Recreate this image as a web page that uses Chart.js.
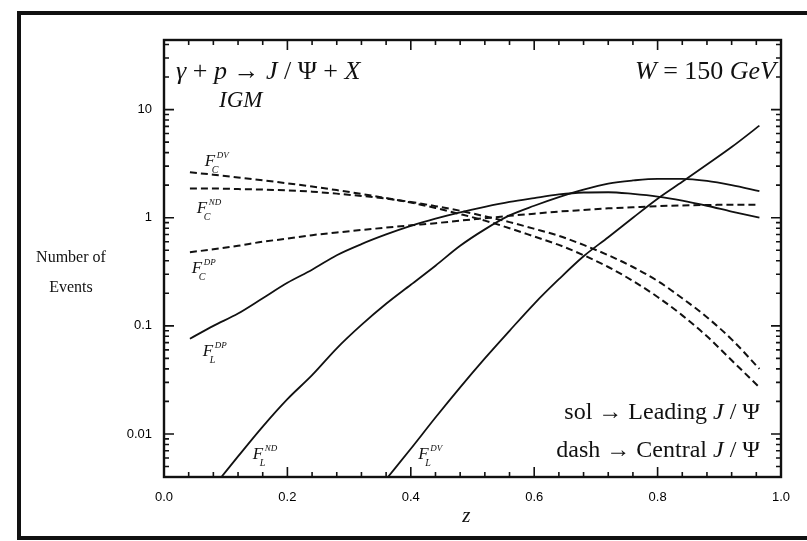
<!DOCTYPE html>
<html>
<head>
<meta charset="utf-8">
<script src="https://cdn.jsdelivr.net/npm/chart.js@4.4.0/dist/chart.umd.min.js"></script>
<style>
  html, body { margin: 0; padding: 0; background: #fff; }
  #wrap { position: relative; width: 807px; height: 541px; }
</style>
</head>
<body>
<div id="wrap"><canvas id="chart" width="807" height="541"></canvas></div>
<script>
// z grid shared by the curves that start at the left edge
var zFull = [0.042, 0.08, 0.12, 0.16, 0.20, 0.24, 0.28, 0.32, 0.36, 0.40, 0.44, 0.48,
             0.52, 0.56, 0.60, 0.64, 0.68, 0.72, 0.76, 0.80, 0.84, 0.88, 0.92, 0.965];
// z grids of the two curves that come up from the bottom axis
var zLeadND = [0.093, 0.12, 0.16, 0.20, 0.24, 0.28, 0.32, 0.36, 0.40, 0.44, 0.48, 0.52,
               0.56, 0.60, 0.64, 0.68, 0.72, 0.76, 0.80, 0.84, 0.88, 0.92, 0.965];
var zLeadDV = [0.363, 0.40, 0.44, 0.48, 0.52, 0.56, 0.60, 0.64, 0.68, 0.72, 0.76, 0.80,
               0.84, 0.88, 0.92, 0.965];

// leading J/Psi (solid)
var leadDP = [0.076, 0.10, 0.13, 0.18, 0.25, 0.33, 0.45, 0.57, 0.70, 0.84, 0.98, 1.12,
              1.26, 1.40, 1.52, 1.64, 1.71, 1.72, 1.66, 1.57, 1.44, 1.29, 1.14, 1.0];
var leadND = [0.004, 0.0062, 0.0117, 0.021, 0.035, 0.062, 0.102, 0.16, 0.24, 0.36, 0.55, 0.78,
              1.05, 1.29, 1.55, 1.82, 2.07, 2.21, 2.29, 2.29, 2.19, 2.0, 1.76];
var leadDV = [0.004, 0.0073, 0.0142, 0.027, 0.05, 0.09, 0.16, 0.27, 0.44, 0.66, 1.0, 1.5,
              2.15, 3.1, 4.5, 7.1];

// central J/Psi (dashed)
var centDP = [0.48, 0.51, 0.55, 0.60, 0.64, 0.69, 0.73, 0.77, 0.81, 0.85, 0.89, 0.94,
              0.99, 1.04, 1.09, 1.14, 1.18, 1.22, 1.25, 1.28, 1.30, 1.31, 1.32, 1.32];
var centND = [1.86, 1.86, 1.84, 1.82, 1.79, 1.74, 1.67, 1.59, 1.50, 1.40, 1.28, 1.16,
              1.03, 0.91, 0.79, 0.68, 0.56, 0.45, 0.35, 0.26, 0.18, 0.12, 0.075, 0.04];
var centDV = [2.63, 2.50, 2.36, 2.22, 2.08, 1.94, 1.80, 1.66, 1.52, 1.38, 1.23, 1.08,
              0.94, 0.80, 0.67, 0.56, 0.45, 0.35, 0.26, 0.185, 0.125, 0.08, 0.048, 0.027];

var xTickLabels = [0.0, 0.2, 0.4, 0.6, 0.8, 1.0];
var yTickLabels = [0.01, 0.1, 1, 10];

// curve names, written next to the curves (position given in data units)
var curveLabels = [
    { sub: 'C', sup: 'DV', z: 0.066, y: 3.03 },
    { sub: 'C', sup: 'ND', z: 0.053, y: 1.11 },
    { sub: 'C', sup: 'DP', z: 0.045, y: 0.309 },
    { sub: 'L', sup: 'DP', z: 0.063, y: 0.0527 },
    { sub: 'L', sup: 'ND', z: 0.144, y: 0.00584 },
    { sub: 'L', sup: 'DV', z: 0.412, y: 0.00584 }
];

function pts(zs, vs) {
    return zs.map(function (z, i) { return { x: z, y: vs[i] }; });
}

function line(label, zs, vs, dashed) {
    return {
        label: label,
        data: pts(zs, vs),
        borderColor: '#111',
        borderWidth: dashed ? 2 : 1.8,
        borderDash: dashed ? [7, 4] : [],
        pointRadius: 0,
        fill: false,
        cubicInterpolationMode: 'monotone'
    };
}

var SERIF = '"Liberation Serif", "DejaVu Serif", serif';

// draw a run of text pieces with their own fonts
function drawRuns(ctx, runs, x, y, align) {
    var total = 0;
    runs.forEach(function (r) { ctx.font = r[1]; total += ctx.measureText(r[0]).width; });
    var cx = align === 'right' ? x - total : (align === 'center' ? x - total / 2 : x);
    ctx.textAlign = 'left';
    ctx.textBaseline = 'alphabetic';
    runs.forEach(function (r) {
        ctx.font = r[1];
        ctx.fillText(r[0], cx, y);
        cx += ctx.measureText(r[0]).width;
    });
}

var decorPlugin = {
    id: 'decor',
    beforeDraw: function (chart) {
        var ctx = chart.ctx;
        ctx.save();
        ctx.fillStyle = '#fff';
        ctx.fillRect(0, 0, chart.width, chart.height);
        ctx.restore();
    },
    afterDraw: function (chart) {
        var ctx = chart.ctx;
        var a = chart.chartArea;
        var xs = chart.scales.x, ys = chart.scales.y;
        ctx.save();
        ctx.strokeStyle = '#111';
        ctx.fillStyle = '#111';

        // outer frame
        ctx.lineWidth = 4;
        ctx.strokeRect(19, 13, 792, 525);

        // plot box
        ctx.lineWidth = 2.4;
        ctx.strokeRect(a.left, a.top, a.right - a.left, a.bottom - a.top);

        // inward ticks on x (every 0.04, long every 0.2)
        ctx.lineWidth = 1.6;
        ctx.beginPath();
        for (var i = 0; i <= 25; i++) {
            var px = xs.getPixelForValue(i * 0.04);
            var len = (i % 5 === 0) ? 10 : 5;
            ctx.moveTo(px, a.bottom); ctx.lineTo(px, a.bottom - len);
            ctx.moveTo(px, a.top); ctx.lineTo(px, a.top + len);
        }
        // inward ticks on y (decades and 2..9)
        for (var k = -3; k <= 2; k++) {
            for (var m = 1; m <= 9; m++) {
                var v = m * Math.pow(10, k);
                if (v < ys.min || v > ys.max) continue;
                var py = ys.getPixelForValue(v);
                var l = (m === 1) ? 10 : 5;
                ctx.moveTo(a.left, py); ctx.lineTo(a.left + l, py);
                ctx.moveTo(a.right, py); ctx.lineTo(a.right - l, py);
            }
        }
        ctx.stroke();

        // header texts
        var it26 = 'italic 26px ' + SERIF, rm26 = '26px ' + SERIF;
        drawRuns(ctx, [['\u03b3', it26], [' + ', rm26], ['p', it26], [' \u2192 ', rm26],
                       ['J', it26], [' / ', rm26], ['\u03a8', rm26], [' + ', rm26], ['X', it26]],
                 a.left + 12, 79, 'left');
        drawRuns(ctx, [['IGM', 'italic 23px ' + SERIF]], a.left + 55, 107, 'left');
        drawRuns(ctx, [['W', it26], [' = ', rm26], ['150 ', rm26], ['GeV', it26]],
                 a.right - 5, 79, 'right');

        // line-style key
        var rm24 = '24px ' + SERIF, it24 = 'italic 24px ' + SERIF;
        drawRuns(ctx, [['sol \u2192 Leading ', rm24], ['J', it24], [' / \u03a8', rm24]],
                 a.right - 21, 419, 'right');
        drawRuns(ctx, [['dash \u2192 Central ', rm24], ['J', it24], [' / \u03a8', rm24]],
                 a.right - 21, 457, 'right');

        // axis titles
        drawRuns(ctx, [['Number of', '16px ' + SERIF]], 71, 262, 'center');
        drawRuns(ctx, [['Events', '16px ' + SERIF]], 71, 292, 'center');
        drawRuns(ctx, [['z', 'italic 21px ' + SERIF]], xs.getPixelForValue(0.49), 522, 'center');

        // curve names
        curveLabels.forEach(function (c) {
            var fx = xs.getPixelForValue(c.z), fy = ys.getPixelForValue(c.y);
            drawRuns(ctx, [['F', 'italic 17px ' + SERIF]], fx, fy, 'left');
            drawRuns(ctx, [[c.sup, 'italic 9px ' + SERIF]], fx + 12, fy - 8, 'left');
            drawRuns(ctx, [[c.sub, 'italic 10px ' + SERIF]], fx + 7, fy + 7, 'left');
        });
        ctx.restore();
    }
};

document.addEventListener('DOMContentLoaded', function () {
    var chartCanvas = document.getElementById('chart').getContext('2d');

    new Chart(chartCanvas, {
        type: 'line',
        data: {
            datasets: [
                line('F_L^DP', zFull, leadDP, false),
                line('F_L^ND', zLeadND, leadND, false),
                line('F_L^DV', zLeadDV, leadDV, false),
                line('F_C^DP', zFull, centDP, true),
                line('F_C^ND', zFull, centND, true),
                line('F_C^DV', zFull, centDV, true)
            ]
        },
        options: {
            responsive: false,
            animation: false,
            layout: { padding: { left: 114, right: 26, top: 40, bottom: 0 } },
            plugins: { legend: { display: false }, tooltip: { enabled: false } },
            scales: {
                x: {
                    type: 'linear', min: 0, max: 1,
                    grid: { display: false, drawTicks: false },
                    border: { display: false },
                    afterBuildTicks: function (s) {
                        s.ticks = xTickLabels.map(function (v) { return { value: v }; });
                    },
                    ticks: {
                        padding: 13, autoSkip: false, maxRotation: 0, color: '#000',
                        font: { family: '"Liberation Sans", Arial, sans-serif', size: 13 },
                        callback: function (v) { return Number(v).toFixed(1); }
                    },
                    afterFit: function (s) { s.height = 64; s.paddingLeft = 0; s.paddingRight = 0; }
                },
                y: {
                    type: 'logarithmic', min: 0.004, max: 44,
                    grid: { display: false, drawTicks: false },
                    border: { display: false },
                    afterBuildTicks: function (s) {
                        s.ticks = yTickLabels.map(function (v) { return { value: v }; });
                    },
                    ticks: {
                        padding: 12, autoSkip: false, color: '#000',
                        font: { family: '"Liberation Sans", Arial, sans-serif', size: 13 },
                        callback: function (v) { return String(v); }
                    },
                    afterFit: function (s) { s.width = 50; s.paddingTop = 0; s.paddingBottom = 0; }
                }
            }
        },
        plugins: [decorPlugin]
    });
});
</script>
</body>
</html>
